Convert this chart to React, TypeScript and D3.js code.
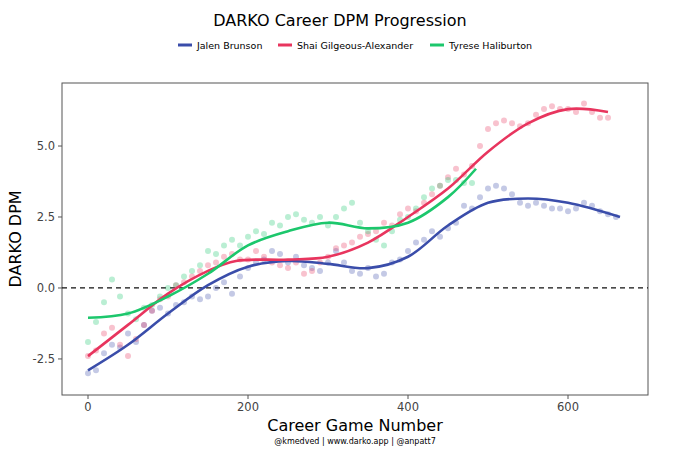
import * as d3 from "d3";

const games = d3.range(0, 670, 10);

const brunsonVals = [-3.0,-2.9,-2.3,-2.0,-2.1,-1.6,-1.9,-1.3,-0.8,-0.7,-0.9,-0.6,-0.5,-0.3,-0.4,-0.3,0.0,0.2,-0.2,0.4,0.7,0.9,1.0,1.3,1.2,0.9,1.1,0.8,0.7,0.6,0.9,1.3,0.9,0.6,0.5,0.7,0.4,0.5,0.9,1.0,1.3,1.6,1.7,2.0,1.8,2.1,2.3,2.9,2.8,3.2,3.5,3.6,3.5,3.3,3.0,2.9,3.0,2.9,2.8,2.8,2.7,2.8,3.0,2.9,2.7,2.6,2.5];
const sgaVals = [-2.4,-2.2,-1.6,-1.4,-2.0,-2.4,-1.8,-1.3,-0.8,-0.4,-0.3,0.1,0.2,0.4,0.6,0.8,0.9,1.1,1.2,1.0,1.0,1.3,1.1,0.9,0.8,0.7,0.9,0.5,0.6,0.9,1.1,1.4,1.5,1.6,1.8,1.9,2.0,2.3,2.2,2.6,2.8,2.7,3.0,3.3,3.6,3.9,4.2,4.0,4.3,5.0,5.6,5.8,5.9,5.8,5.7,5.8,6.1,6.3,6.4,6.3,6.3,6.2,6.5,6.2,6.0,6.0];
const halibVals = [-1.9,-1.2,-0.5,0.3,-0.3,-0.9,-1.1,-0.7,-0.6,-0.3,0.0,0.1,0.4,0.6,0.8,1.3,1.2,1.5,1.7,1.5,1.8,2.0,1.9,2.3,2.2,2.5,2.6,2.4,2.3,2.5,2.2,2.5,2.8,3.0,2.3,2.0,1.7,1.5,2.0,2.4,2.5,2.8,3.2,3.5,3.6,3.8,3.8,3.7,3.7];

const brunsonFit: [number, number][] = [[0,-2.9],[50,-2.0],[100,-0.9],[150,0.1],[200,0.75],[250,0.95],[300,0.85],[350,0.7],[400,1.1],[450,2.2],[500,3.0],[550,3.15],[600,3.0],[665,2.5]];
const sgaFit: [number, number][] = [[0,-2.4],[50,-1.3],[100,-0.2],[150,0.6],[185,0.95],[250,1.0],[300,1.1],[350,1.6],[400,2.5],[450,3.5],[500,4.8],[550,5.8],[600,6.3],[650,6.2]];
const halibFit: [number, number][] = [[0,-1.05],[50,-0.9],[100,-0.3],[150,0.5],[200,1.5],[250,2.0],[300,2.3],[350,2.1],[400,2.3],[450,3.2],[485,4.2]];

const series = [
  { name: "Jalen Brunson", color: "#3A4DAA", vals: brunsonVals, fit: brunsonFit },
  { name: "Shai Gilgeous-Alexander", color: "#E8355E", vals: sgaVals, fit: sgaFit },
  { name: "Tyrese Haliburton", color: "#1CC76C", vals: halibVals, fit: halibFit },
];

const yTicks = [-2.5, 0, 2.5, 5];
const xTicks = [0, 200, 400, 600];

export default function App() {
  const W = 680, H = 467;
  const x = d3.scaleLinear().domain([-32.5, 700]).range([62, 648]);
  const y = d3.scaleLinear().domain([-3.77, 7.22]).range([395, 83]);
  const line = d3.line<[number, number]>().x(d => x(d[0])).y(d => y(d[1])).curve(d3.curveCatmullRom);
  const font = "DejaVu Sans, sans-serif";
  const legendX = [178, 278, 430];
  return (
    <svg width={W} height={H} style={{ position: "absolute", left: 0, top: 0 }} fontFamily={font}>
      <rect width={W} height={H} fill="white" />
      <text x={340} y={26} textAnchor="middle" fontSize={16}>DARKO Career DPM Progression</text>
      {series.map((s, i) => (
        <g key={s.name}>
          <line x1={legendX[i]} x2={legendX[i] + 14} y1={45} y2={45} stroke={s.color} strokeWidth={3} />
          <text x={legendX[i] + 19} y={48.5} fontSize={9.5}>{s.name}</text>
        </g>
      ))}
      <rect x={62} y={83} width={586} height={312} fill="none" stroke="#555" strokeWidth={1} />
      <line x1={62} x2={648} y1={y(0)} y2={y(0)} stroke="#111" strokeWidth={1.3} strokeDasharray="5,4" />
      {series.map(s => (
        <g key={s.name + "p"}>
          {s.vals.map((v, i) => (
            <circle key={i} cx={x(games[i])} cy={y(v)} r={3} fill={s.color} opacity={0.3} />
          ))}
        </g>
      ))}
      {series.map(s => (
        <path key={s.name + "l"} d={line(s.fit) || ""} fill="none" stroke={s.color} strokeWidth={2.6} />
      ))}
      {yTicks.map(t => (
        <g key={t}>
          <line x1={58} x2={62} y1={y(t)} y2={y(t)} stroke="#555" />
          <text x={55} y={y(t) + 4} textAnchor="end" fontSize={11.5} fill="#444">{t.toFixed(1)}</text>
        </g>
      ))}
      {xTicks.map(t => (
        <g key={t}>
          <line x1={x(t)} x2={x(t)} y1={395} y2={399} stroke="#555" />
          <text x={x(t)} y={411} textAnchor="middle" fontSize={11.5} fill="#444">{t}</text>
        </g>
      ))}
      <text x={355} y={431} textAnchor="middle" fontSize={16}>Career Game Number</text>
      <text transform={`translate(21,239) rotate(-90)`} textAnchor="middle" fontSize={16}>DARKO DPM</text>
      <text x={355} y={444} textAnchor="middle" fontSize={8}>@kmedved | www.darko.app | @anpatt7</text>
    </svg>
  );
}
